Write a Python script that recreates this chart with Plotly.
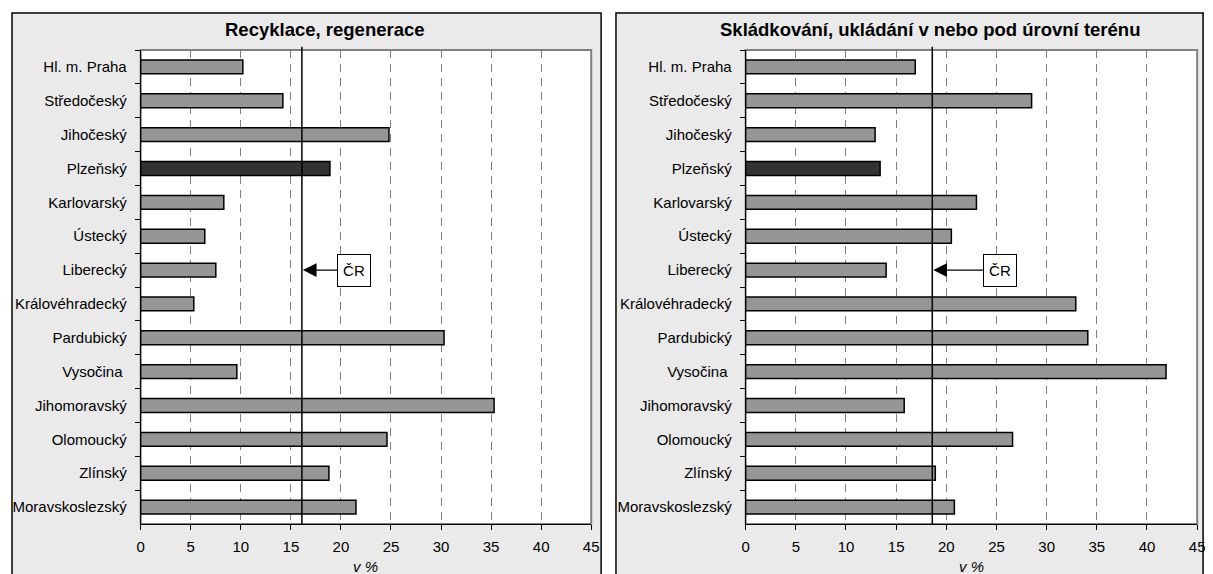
import plotly.graph_objects as go

W, H = 1213, 574
OFF = 8  # page body margin

regions = ["Hl. m. Praha", "Středočeský", "Jihočeský", "Plzeňský", "Karlovarský",
           "Ústecký", "Liberecký", "Královéhradecký", "Pardubický", "Vysočina ",
           "Jihomoravský", "Olomoucký", "Zlínský", "Moravskoslezský"]
recyklace = [10.2, 14.2, 24.8, 18.9, 8.3, 6.4, 7.5, 5.3, 30.3, 9.6, 35.3, 24.6, 18.8, 21.5]
skladkovani = [16.9, 28.5, 12.9, 13.4, 23.0, 20.5, 14.0, 32.9, 34.1, 41.9, 15.8, 26.6, 18.9, 20.8]
cr_recyklace = 16.1
cr_skladkovani = 18.6
titles = ["Recyklace, regenerace", "Skládkování, ukládání v nebo pod úrovní terénu"]
x_ticks = [0, 5, 10, 15, 20, 25, 30, 35, 40, 45]
highlight = "Plzeňský"

FONT = "Liberation Sans, Arial, sans-serif"
FS = 15

def px(x):
    return (x - OFF) / W

def py(y):
    return 1 - (y - OFF) / H

colors = ["#333333" if r == highlight else "#969696" for r in regions]

fig = go.Figure()
fig.add_trace(go.Bar(y=regions, x=recyklace, orientation="h", xaxis="x", yaxis="y",
                     marker=dict(color=colors, line=dict(color="black", width=1.5)),
                     showlegend=False, hoverinfo="x+y"))
fig.add_trace(go.Bar(y=regions, x=skladkovani, orientation="h", xaxis="x2", yaxis="y2",
                     marker=dict(color=colors, line=dict(color="black", width=1.5)),
                     showlegend=False, hoverinfo="x+y"))

plots = [(138, 593), (749, 1205)]
panels = [(8, 603), (618, 1211)]
top, bottom = 50, 524

xcommon = dict(range=[0, 45], tickvals=x_ticks, ticks="outside", ticklen=5, tickcolor="black",
               tickwidth=1, showline=True, linecolor="black", linewidth=1,
               showgrid=True, gridcolor="#808080", gridwidth=1, griddash="8px,6px",
               zeroline=False, tickfont=dict(family=FONT, size=FS, color="black"),
               ticklabelstandoff=4, fixedrange=True)
ycommon = dict(type="category", categoryorder="array", categoryarray=regions,
               autorange="reversed", ticks="outside", ticklen=5, tickcolor="black",
               tickson="boundaries", showline=True, linecolor="black", linewidth=1,
               showgrid=False, tickfont=dict(family=FONT, size=FS, color="black"),
               ticklabelstandoff=10, fixedrange=True)

layout = dict(width=W, height=H, margin=dict(l=0, r=0, t=0, b=0),
              paper_bgcolor="white", plot_bgcolor="rgba(0,0,0,0)",
              bargap=0.59, font=dict(family=FONT, size=FS, color="black"))
layout["xaxis"] = dict(xcommon, domain=[px(plots[0][0]), px(plots[0][1])], anchor="y")
layout["yaxis"] = dict(ycommon, domain=[py(bottom), py(top)], anchor="x")
layout["xaxis2"] = dict(xcommon, domain=[px(plots[1][0]), px(plots[1][1])], anchor="y2")
layout["yaxis2"] = dict(ycommon, domain=[py(bottom), py(top)], anchor="x2")
fig.update_layout(**layout)

shapes = []
for (a, b) in panels:
    shapes.append(dict(type="rect", xref="paper", yref="paper", x0=px(a), x1=px(b),
                       y0=-0.05, y1=py(13), fillcolor="#EAEAEA",
                       line=dict(color="black", width=1.5), layer="below"))
for (a, b) in plots:
    shapes.append(dict(type="rect", xref="paper", yref="paper", x0=px(a), x1=px(b),
                       y0=py(bottom), y1=py(top), fillcolor="white",
                       line=dict(color="#808080", width=2), layer="below"))
for i, cr in enumerate([cr_recyklace, cr_skladkovani]):
    xr = "x" if i == 0 else "x2"
    yr = "y domain" if i == 0 else "y2 domain"
    shapes.append(dict(type="line", xref=xr, yref=yr, x0=cr, x1=cr, y0=0, y1=1.007,
                       line=dict(color="black", width=1.5)))
fig.update_layout(shapes=shapes)

annotations = []
centers = [324.5, 935]
for i, t in enumerate(titles):
    annotations.append(dict(text="<b>" + t + "</b>", xref="paper", yref="paper",
                            x=px(centers[i]), y=py(29.5), showarrow=False,
                            xanchor="center", yanchor="middle",
                            font=dict(family=FONT, size=18.5, color="black")))
    a, b = plots[i]
    annotations.append(dict(text="<i>v %</i>", xref="paper", yref="paper",
                            x=px((a + b) / 2), y=py(566), showarrow=False,
                            xanchor="center", yanchor="middle",
                            font=dict(family=FONT, size=FS, color="black")))

for i, (cr, ax) in enumerate([(cr_recyklace, 52), (cr_skladkovani, 68)]):
    annotations.append(dict(text="ČR", x=cr, y="Liberecký",
                            xref="x" if i == 0 else "x2", yref="y" if i == 0 else "y2",
                            showarrow=True, ax=ax, ay=0, axref="pixel", ayref="pixel",
                            arrowhead=2, arrowsize=2.1, arrowwidth=1.3, arrowcolor="black",
                            standoff=1, bgcolor="white", bordercolor="black", borderwidth=1,
                            borderpad=2, width=28, height=27,
                            font=dict(family=FONT, size=FS, color="black")))
fig.update_layout(annotations=annotations)

fig.write_html("out.html")
